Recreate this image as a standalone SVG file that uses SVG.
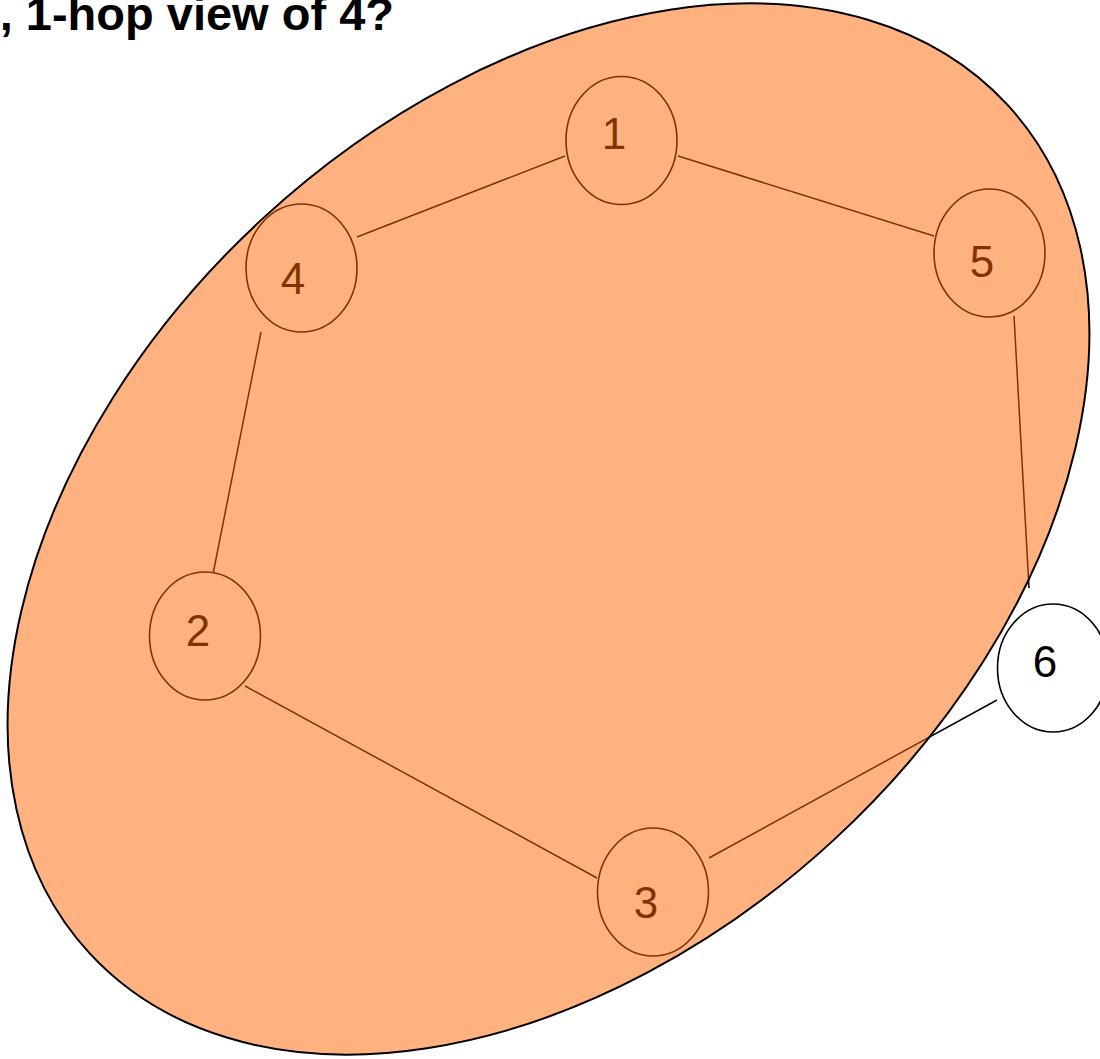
<svg xmlns="http://www.w3.org/2000/svg" width="1100" height="1059" viewBox="0 0 1100 1059">
<style>
.node ellipse{fill:#ffffff;stroke:#000000;stroke-width:1.6}
.node text{font-family:"Liberation Sans",Arial,sans-serif;font-size:44px;fill:#000000;text-anchor:middle}
.edge{stroke:#000000;stroke-width:1.5;fill:none}
.title{font-family:"Liberation Sans",Arial,sans-serif;font-size:47px;font-weight:bold;fill:#000000;text-anchor:end}
</style>
<rect x="0" y="0" width="1100" height="1059" fill="#ffffff"/>
<g id="connectors">
<line class="edge" x1="565" y1="156" x2="357" y2="237"/>
<line class="edge" x1="678" y1="156" x2="934" y2="236"/>
<line class="edge" x1="261" y1="332" x2="213" y2="574"/>
<line class="edge" x1="245" y1="686" x2="597" y2="878"/>
<line class="edge" x1="709" y1="858" x2="997" y2="700"/>
<line class="edge" x1="1014" y1="316" x2="1029" y2="588"/>
</g>
<g id="node1" class="node"><ellipse cx="621.5" cy="140.5" rx="55.5" ry="64"/><text x="614" y="149">1</text></g>
<g id="node4" class="node"><ellipse cx="301.5" cy="268" rx="55.5" ry="64"/><text x="293" y="294">4</text></g>
<g id="node5" class="node"><ellipse cx="989.5" cy="253" rx="55.5" ry="64"/><text x="982" y="277">5</text></g>
<g id="node2" class="node"><ellipse cx="205" cy="636" rx="55.5" ry="64"/><text x="198" y="646">2</text></g>
<g id="node3" class="node"><ellipse cx="653" cy="892" rx="55.5" ry="64"/><text x="646" y="918">3</text></g>
<g id="node6" class="node"><ellipse cx="1053" cy="668" rx="55.5" ry="64"/><text x="1045" y="677">6</text></g>
<g id="region">
<ellipse cx="548.5" cy="529" rx="625" ry="422" transform="rotate(-42.8 548.5 529)" fill="#ff6600" fill-opacity="0.5" stroke="#000000" stroke-width="2"/>
</g>
<text class="title" x="394" y="30">, 1-hop view of 4?</text>
</svg>
